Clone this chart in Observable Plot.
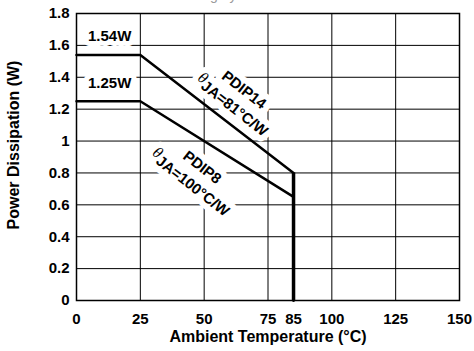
<!DOCTYPE html>
<html>
<head>
<meta charset="utf-8">
<script src="https://cdn.jsdelivr.net/npm/d3@7"></script>
<script src="https://cdn.jsdelivr.net/npm/@observablehq/plot@0.6"></script>
<style>
  html, body { margin: 0; padding: 0; background: white; }
  #wrap { position: relative; width: 474px; height: 351px; overflow: hidden; }
  #title { position: absolute; left: 63px; top: -13px; font: 14px "Liberation Sans", Arial, sans-serif; color: #9a9a9a; line-height: 16px; white-space: nowrap; }
  #chart { position: absolute; left: 0; top: 0; }
</style>
</head>
<body>
<div id="wrap">
  <div id="chart"></div>
  <div id="title">Absolute Power Derating by Ambient Level</div>
</div>
<script>
// Data
const temps  = [0, 25, 85, 85];
const pdip14 = [1.54, 1.54, 0.8, 0];
const pdip8  = [1.25, 1.25, 0.65, 0];

const xTicks = [0, 25, 50, 75, 85, 100, 125, 150];
const xGrid  = [25, 50, 75, 100, 125];
const yTicks = [0, 0.2, 0.4, 0.6, 0.8, 1, 1.2, 1.4, 1.6, 1.8];
const yTickLabels = ["0", "0.2", "0.4", "0.6", "0.8", "1", "1.2", "1.4", "1.6", "1.8"];

const flatLabels = ["1.54W", "1.25W"];
const flatLabelX = [13, 13];
const flatLabelY = [1.656, 1.361];

const slopeLabels = ["PDIP14\nθJA=81°C/W", "PDIP8\nθJA=100°C/W"];
const slopeLabelX = [63.6, 47.2];
const slopeLabelY = [1.279, 0.793];

const xLabel = "Ambient Temperature (°C)";
const yLabel = "Power Dissipation (W)";

const line14 = temps.map((t, i) => ({t, p: pdip14[i]}));
const line8  = temps.map((t, i) => ({t, p: pdip8[i]}));
const flat  = flatLabels.map((s, i) => ({s, x: flatLabelX[i], y: flatLabelY[i]}));
const slope = slopeLabels.map((s, i) => ({s, x: slopeLabelX[i], y: slopeLabelY[i]}));
const cutoff = temps[2];
const cutoffTop = Math.max(pdip14[2], pdip8[2]);

const flatOpts  = {x: "x", y: "y", text: "s", fontSize: 15, fontWeight: "bold", textAnchor: "middle"};
const slopeOpts = {x: "x", y: "y", text: "s", fontSize: 15, fontWeight: "bold", textAnchor: "middle",
                   rotate: 38, lineHeight: 1.3};

const chart = Plot.plot({
  width: 474,
  height: 351,
  marginLeft: 76,
  marginRight: 15,
  marginTop: 13,
  marginBottom: 51,
  style: {
    fontFamily: "'Liberation Sans', Arial, sans-serif",
    fontSize: "15px",
    fontWeight: "bold",
    color: "black",
    background: "transparent",
    overflow: "visible"
  },
  x: {
    domain: [0, 150],
    ticks: xTicks,
    tickSize: 0,
    tickPadding: 13,
    label: xLabel,
    labelAnchor: "center",
    labelArrow: "none",
    labelOffset: 41
  },
  y: {
    domain: [0, 1.8],
    ticks: yTicks,
    tickSize: 0,
    tickPadding: 7,
    tickFormat: d => yTickLabels[yTicks.indexOf(d)] ?? String(d),
    label: yLabel,
    labelAnchor: "center",
    labelArrow: "none",
    labelOffset: 69
  },
  marks: [
    Plot.ruleX(xGrid, {stroke: "black", strokeWidth: 1}),
    Plot.ruleY(yTicks.slice(1, -1), {stroke: "black", strokeWidth: 1}),
    // white knock-out halos behind the labels
    Plot.text(flat, {...flatOpts, fill: "white", stroke: "white", strokeWidth: 10}),
    Plot.text(slope, {...slopeOpts, fill: "white", stroke: "white", strokeWidth: 12}),
    Plot.line(line14, {x: "t", y: "p", stroke: "black", strokeWidth: 2.5}),
    Plot.line(line8, {x: "t", y: "p", stroke: "black", strokeWidth: 2.5}),
    Plot.ruleX([cutoff], {x: d => d, y1: 0, y2: cutoffTop, stroke: "black", strokeWidth: 3.5}),
    // the labels themselves
    Plot.text(flat, {...flatOpts, fill: "black"}),
    Plot.text(slope, {...slopeOpts, fill: "black"}),
    Plot.frame({stroke: "black", strokeWidth: 1.5})
  ]
});

document.getElementById("chart").appendChild(chart);

// Style theta as an italic raised symbol (keeping the line's own dy)
d3.select(chart).selectAll("text, tspan").each(function () {
  if (this.childElementCount === 0 && this.textContent.startsWith("θ")) {
    const rest = this.textContent.slice(1);
    const pdy = parseFloat(this.getAttribute("dy") || "0") || 0;
    this.removeAttribute("dy");
    const sel = d3.select(this);
    sel.text("");
    sel.append("tspan").attr("font-style", "italic").attr("font-weight", "normal")
      .attr("font-family", "'Liberation Serif', serif").attr("font-size", "16px")
      .attr("dy", `${pdy - 0.3}em`).text("θ");
    sel.append("tspan").attr("dy", "0.3em").text(rest);
  }
});

// Strip any axis-label arrows, enlarge axis titles, nudge the y-axis title upward
d3.select(chart).selectAll("text").each(function () {
  const s = this.textContent;
  if (this.childElementCount === 0 && (s.includes("→") || s.includes("↑"))) {
    this.textContent = s.replace(/\s*[→↑]\s*/g, "").trim();
  }
  if (this.textContent === xLabel || this.textContent === yLabel) {
    d3.select(this).attr("font-size", "16px");
  }
  if (this.textContent === yLabel) {
    const tr = d3.select(this).attr("transform") || "";
    d3.select(this).attr("transform", tr + " translate(12,0)");
  }
});
</script>
</body>
</html>
